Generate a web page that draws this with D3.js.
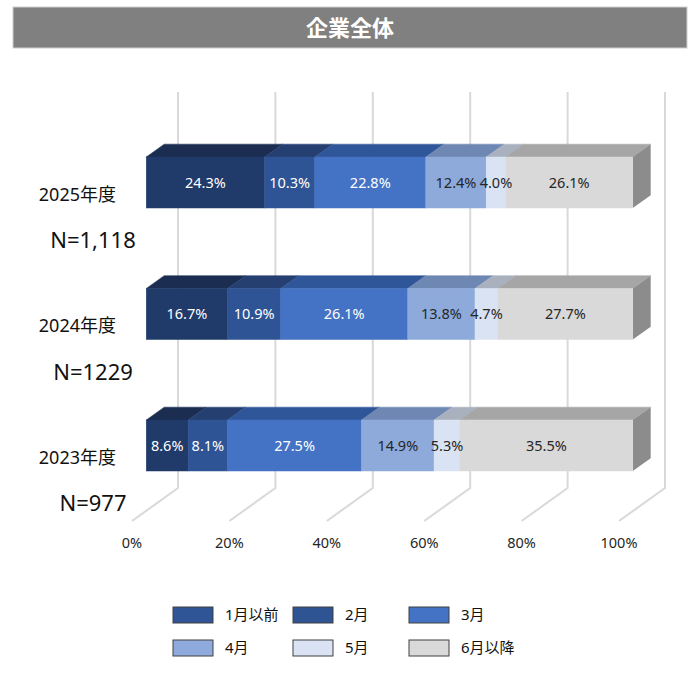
<!DOCTYPE html>
<html><head><meta charset="utf-8">
<script src="https://cdn.jsdelivr.net/npm/d3@7"></script>
<style>body{margin:0;background:#fff}svg{display:block}</style>
</head><body>
<svg id="c" width="700" height="681"></svg>
<script>
const title = "企業全体";
const categories = ["2025年度", "2024年度", "2023年度"];
const nLabels = ["N=1,118", "N=1229", "N=977"];
const seriesNames = ["1月以前", "2月", "3月", "4月", "5月", "6月以降"];
const values2025 = [24.3, 10.3, 22.8, 12.4, 4.0, 26.1];
const values2024 = [16.7, 10.9, 26.1, 13.8, 4.7, 27.7];
const values2023 = [8.6, 8.1, 27.5, 14.9, 5.3, 35.5];
const tickValues = [0, 20, 40, 60, 80, 100];
const tickLabels = ["0%", "20%", "40%", "60%", "80%", "100%"];
const frontColors = ["#203a69", "#2e5495", "#4472c4", "#8eaadb", "#dae3f3", "#d9d9d9"];
const topColors = ["#1b2e52", "#243f70", "#30569a", "#6f87b3", "#a9b1bf", "#a6a6a6"];
const legendColors = ["#2f5597", "#2e5494", "#4472c4", "#8faadc", "#dae3f3", "#d9d9d9"];
const labelColors = ["#ffffff", "#ffffff", "#ffffff", "#262626", "#262626", "#262626"];

const rows = [values2025, values2024, values2023];
const font = "'Noto Sans', 'Noto Sans CJK JP', sans-serif";
const svg = d3.select("#c");

// title bar
svg.append("rect").attr("x", 13).attr("y", 7).attr("width", 674).attr("height", 41)
  .attr("fill", "#808080").attr("stroke", "#d0d0d0").attr("stroke-width", 1);
svg.append("text").attr("x", 350).attr("y", 28).attr("dy", "0.36em")
  .attr("text-anchor", "middle").attr("fill", "#fff")
  .attr("font-family", "'Noto Sans CJK JP', sans-serif").attr("font-weight", "bold")
  .attr("font-size", 22).text(title);

// 3D geometry
const depthDX = 46, depthDY = 33;
const barD0 = 0.30, barD1 = 0.69;
const xBack = d3.scaleLinear().domain([0, 100]).range([178, 665]);
const xFront = v => xBack(v) - depthDX * barD1;
const bdx = depthDX * (barD1 - barD0), bdy = depthDY * (barD1 - barD0);
const gridTop = 92, floorBack = 488;

const y = d3.scaleBand().domain(categories).range([157, 471]).paddingInner(0.6122).paddingOuter(0);

// gridlines
const grid = svg.append("g").attr("stroke", "#d9d9d9").attr("stroke-width", 2).attr("fill", "none");
tickValues.forEach(t => {
  grid.append("path").attr("d",
    `M${xBack(t)},${gridTop}L${xBack(t)},${floorBack}L${xBack(t) - depthDX},${floorBack + depthDY}`);
});

// axis labels
svg.append("g").selectAll("text").data(tickValues).join("text")
  .attr("x", d => xBack(d) - depthDX).attr("y", 543).attr("dy", "0.36em")
  .attr("text-anchor", "middle").attr("font-family", font).attr("font-size", 14.5)
  .attr("fill", "#262626").text((d, i) => tickLabels[i]);

// bars
categories.forEach((cat, ci) => {
  const vals = rows[ci];
  const yt = y(cat), h = y.bandwidth();
  const g = svg.append("g");
  let cum = 0;
  const segs = vals.map((v, i) => { const s = {i, v, x0: cum, x1: cum + v}; cum += v; return s; });
  segs.forEach(s => {
    const a = xFront(s.x0), b = xFront(s.x1);
    g.append("path").attr("d", `M${a},${yt}L${b},${yt}L${b + bdx},${yt - bdy}L${a + bdx},${yt - bdy}Z`)
      .attr("fill", topColors[s.i]).attr("stroke", topColors[s.i]).attr("stroke-width", 0.5);
  });
  const last = segs[segs.length - 1];
  const xe = xFront(last.x1);
  g.append("path").attr("d", `M${xe},${yt}L${xe + bdx},${yt - bdy}L${xe + bdx},${yt + h - bdy}L${xe},${yt + h}Z`)
    .attr("fill", "#8c8c8c");
  segs.forEach(s => {
    g.append("rect").attr("x", xFront(s.x0)).attr("y", yt)
      .attr("width", xFront(s.x1) - xFront(s.x0)).attr("height", h)
      .attr("fill", frontColors[s.i]).attr("stroke", frontColors[s.i]).attr("stroke-width", 0.5);
  });
  segs.forEach(s => {
    g.append("text").attr("x", (xFront(s.x0) + xFront(s.x1)) / 2).attr("y", yt + h / 2).attr("dy", "0.36em")
      .attr("text-anchor", "middle").attr("font-family", font).attr("font-size", 14.5)
      .attr("fill", labelColors[s.i]).text(s.v.toFixed(1) + "%");
  });
  svg.append("text").attr("x", 116).attr("y", yt + h / 2 + 12).attr("dy", "0.36em")
    .attr("text-anchor", "end").attr("font-family", font).attr("font-size", 18)
    .attr("fill", "#111").text(cat);
  svg.append("text").attr("x", 93).attr("y", yt + h / 2 + 58).attr("dy", "0.36em")
    .attr("text-anchor", "middle").attr("font-family", font).attr("font-size", 22)
    .attr("fill", "#111").text(nLabels[ci]);
});

// legend
const legCols = [173, 293, 409], legRows = [607, 640];
const leg = svg.append("g");
seriesNames.forEach((name, i) => {
  const lx = legCols[i % 3], ly = legRows[Math.floor(i / 3)];
  leg.append("rect").attr("x", lx).attr("y", ly).attr("width", 40).attr("height", 16)
    .attr("fill", legendColors[i]).attr("stroke", "#404040").attr("stroke-width", 1);
  leg.append("text").attr("x", lx + 52).attr("y", ly + 8).attr("dy", "0.36em")
    .attr("font-family", font).attr("font-size", 15).attr("fill", "#111").text(name);
});
</script>
</body></html>
